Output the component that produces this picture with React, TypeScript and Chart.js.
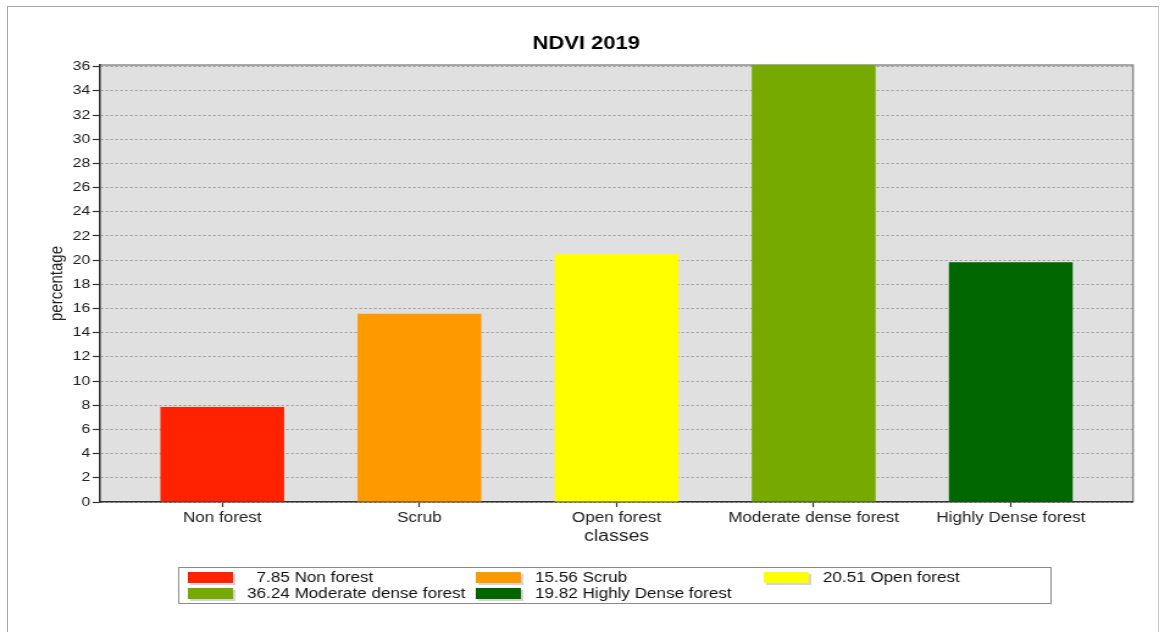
import { useEffect, useRef } from 'react';
import { Chart, registerables } from 'chart.js';

Chart.register(...registerables);

const TITLE = 'NDVI 2019';
const X_TITLE = 'classes';
const Y_TITLE = 'percentage';
const categories = ['Non forest', 'Scrub', 'Open forest', 'Moderate dense forest', 'Highly Dense forest'];
const values = [7.85, 15.56, 20.51, 36.24, 19.82];
const barColors = ['#ff2200', '#ff9900', '#ffff00', '#77aa00', '#006600'];
const yTicks = [0, 2, 4, 6, 8, 10, 12, 14, 16, 18, 20, 22, 24, 26, 28, 30, 32, 34, 36];

const STRETCH = 1.22;
const W = 953;
const H = 632;
const FONT = "'Liberation Sans', Arial, Helvetica, sans-serif";

const plotBg = {
  id: 'plotBg',
  beforeDraw(chart: any) {
    const { ctx, chartArea: a } = chart;
    ctx.save();
    ctx.fillStyle = '#e0e0e0';
    ctx.fillRect(a.left, a.top, a.right - a.left, a.bottom - a.top);
    ctx.strokeStyle = '#8e8e8e';
    ctx.lineWidth = 1.5;
    ctx.beginPath();
    ctx.moveTo(a.left, a.top);
    ctx.lineTo(a.right, a.top);
    ctx.lineTo(a.right, a.bottom);
    ctx.stroke();
    ctx.restore();
  },
};

const legendBox = {
  id: 'legendBox',
  afterDraw(chart: any) {
    const ctx = chart.ctx;
    const bx = 146, by = 567, bw = 715, bh = 36;
    ctx.save();
    ctx.strokeStyle = '#8a8a8a';
    ctx.lineWidth = 1;
    ctx.strokeRect(bx + 0.5, by + 0.5, bw, bh);
    ctx.font = `14px ${FONT}`;
    ctx.textBaseline = 'middle';
    ctx.textAlign = 'left';
    const nums = values.map((v) => v.toFixed(2));
    const numW = Math.max(...nums.map((n) => ctx.measureText(n).width));
    categories.forEach((c, i) => {
      const col = i % 3;
      const row = Math.floor(i / 3);
      const sx = 154 + col * 236;
      const sy = 572 + row * 16;
      ctx.fillStyle = '#d4d4d4';
      ctx.fillRect(sx + 2, sy + 2, 37, 11);
      ctx.fillStyle = barColors[i];
      ctx.fillRect(sx, sy, 37, 11);
      const tx = sx + 48.5 + numW - ctx.measureText(nums[i]).width;
      ctx.fillStyle = '#111';
      ctx.fillText(`${nums[i]} ${c}`, tx, sy + 6);
    });
    ctx.restore();
  },
};

export default function App() {
  const ref = useRef<HTMLCanvasElement>(null);

  useEffect(() => {
    Chart.defaults.font.family = FONT;
    const chart = new Chart(ref.current as HTMLCanvasElement, {
      type: 'bar',
      data: {
        datasets: [
          {
            data: values.map((v, i) => ({ x: i, y: v })),
            backgroundColor: barColors,
            borderWidth: 0,
            barPercentage: 0.628,
            categoryPercentage: 1,
            xAxisID: 'x',
            yAxisID: 'y',
          },
        ],
      },
      options: {
        animation: false,
        responsive: true,
        maintainAspectRatio: false,
        layout: { padding: { left: 8, right: 0, top: 0, bottom: 85 } },
        plugins: {
          legend: { display: false },
          tooltip: { enabled: false },
          title: {
            display: true,
            text: TITLE,
            color: '#000',
            font: { family: FONT, size: 18, weight: 'bold' },
            padding: { top: 33.7, bottom: 9.7 },
          },
        },
        scales: {
          x: {
            type: 'linear',
            position: 'bottom',
            offset: false,
            min: -0.62,
            max: 4.62,
            afterBuildTicks: (s: any) => {
              s.ticks = categories.map((_, i) => ({ value: i }));
            },
            afterFit: (s: any) => {
              s.height = 45;
            },
            ticks: {
              autoSkip: false,
              maxRotation: 0,
              color: '#222',
              font: { family: FONT, size: 14 },
              padding: 3,
              callback: (v: any) => categories[Math.round(Number(v))] ?? '',
            },
            grid: {
              display: true,
              offset: false,
              drawOnChartArea: false,
              drawTicks: true,
              tickLength: 5,
              tickColor: '#333',
              tickWidth: 1.2,
            },
            border: { display: true, color: '#333', width: 1.5 },
            title: {
              display: true,
              text: X_TITLE,
              color: '#222',
              font: { family: FONT, size: 16 },
              padding: { top: 0, bottom: 1 },
            },
          },
          y: {
            type: 'linear',
            position: 'left',
            min: 0,
            max: 36.14,
            afterBuildTicks: (s: any) => {
              s.ticks = yTicks.map((v) => ({ value: v }));
            },
            afterFit: (s: any) => {
              s.width = 74;
            },
            ticks: {
              color: '#222',
              font: { family: FONT, size: 13 },
              padding: 2,
              callback: (v: any) => String(v),
            },
            grid: {
              color: '#9a9a9a',
              lineWidth: 1,
              drawTicks: true,
              tickLength: 6,
              tickColor: '#333',
              tickWidth: 1.2,
              tickBorderDash: [],
            },
            border: { display: true, color: '#333', width: 1.6, dash: [2, 2] },
            title: {
              display: true,
              text: Y_TITLE,
              color: '#222',
              font: { family: FONT, size: 15 },
              padding: { top: 29.7, bottom: 0 },
            },
          },
          y2: {
            type: 'linear',
            position: 'right',
            display: true,
            grid: { display: false, drawTicks: false },
            border: { display: false },
            ticks: { display: false },
            afterFit: (s: any) => {
              s.width = 24.3;
            },
          },
        },
      } as any,
      plugins: [plotBg, legendBox],
    });
    return () => chart.destroy();
  }, []);

  return (
    <>
      <div
        style={{
          position: 'fixed',
          left: 7,
          top: 6,
          width: 1152,
          height: 700,
          boxSizing: 'border-box',
          borderLeft: '1px solid #a6a6a6',
          borderTop: '1px solid #a6a6a6',
          borderRight: '1px solid #c8c8c8',
        }}
      />
      <div
        style={{
          position: 'fixed',
          left: 0,
          top: 0,
          width: W,
          height: H,
          transform: `scaleX(${STRETCH})`,
          transformOrigin: '0 0',
        }}
      >
        <canvas ref={ref} />
      </div>
    </>
  );
}
